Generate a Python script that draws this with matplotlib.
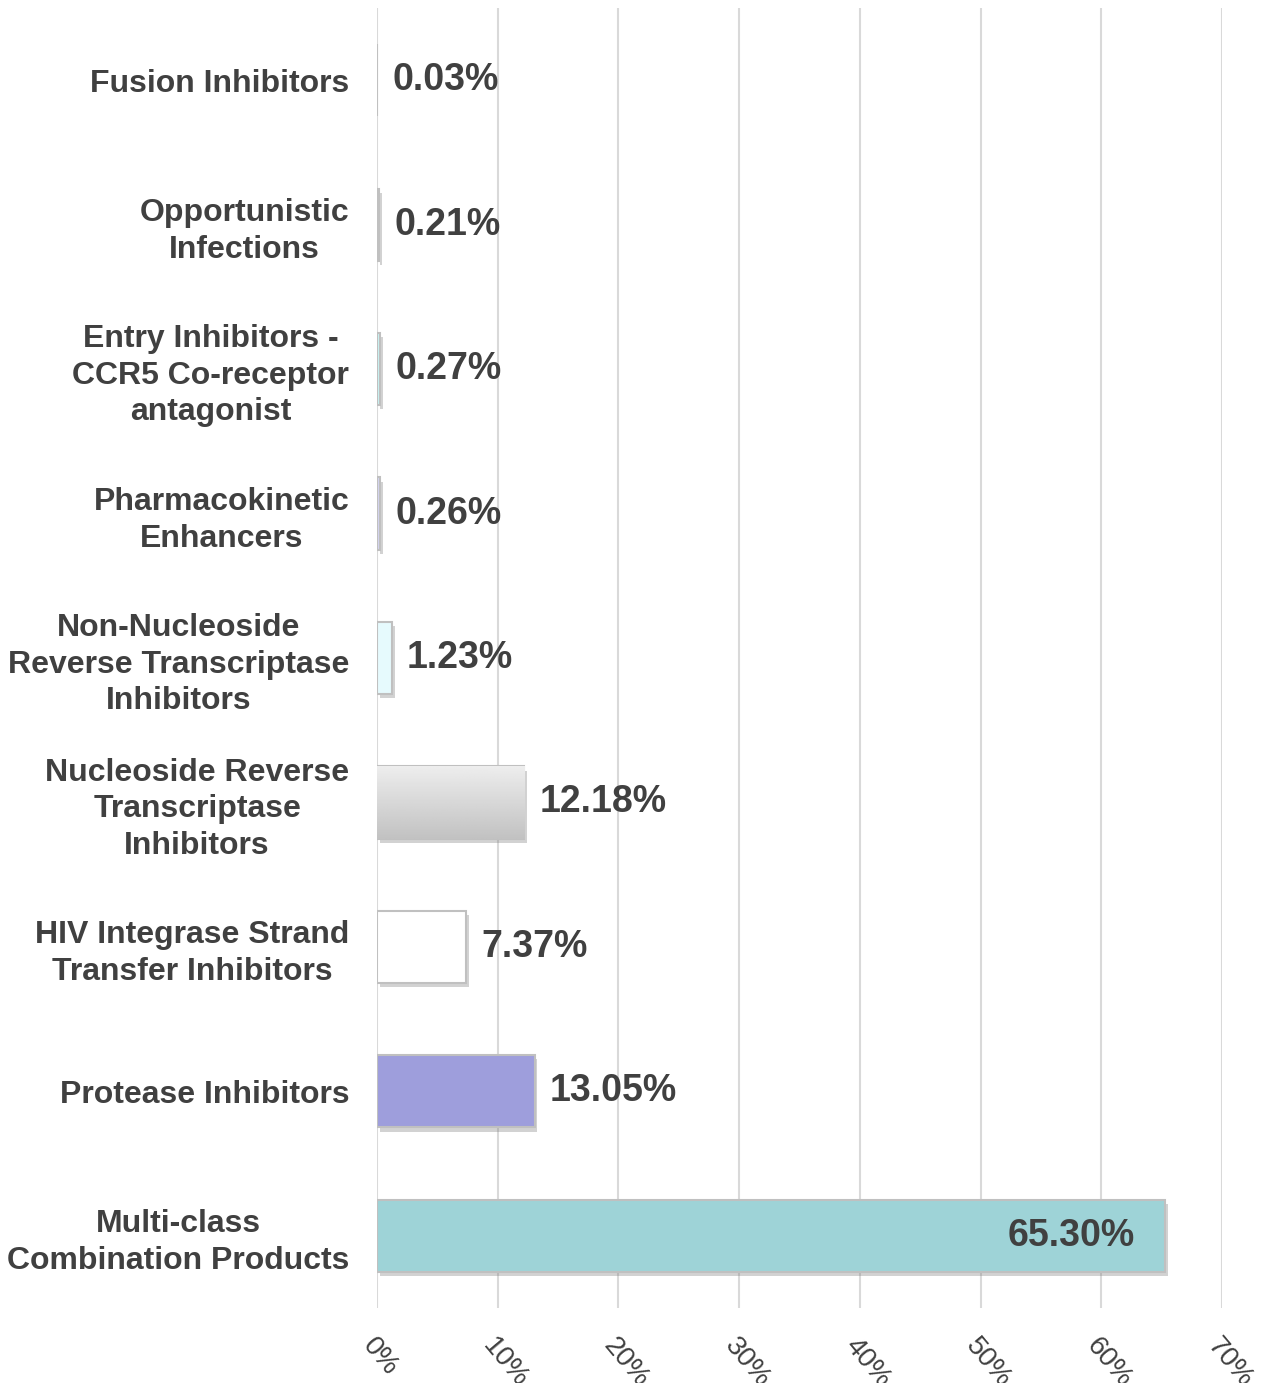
import numpy as np
import matplotlib.pyplot as plt
import matplotlib.patheffects as pe

plt.rcParams['font.family'] = ['Liberation Sans', 'DejaVu Sans']

# bottom to top
categories = ['Multi-class\nCombination Products',
              'Protease Inhibitors',
              'HIV Integrase Strand\nTransfer Inhibitors',
              'Nucleoside Reverse\nTranscriptase\nInhibitors',
              'Non-Nucleoside\nReverse Transcriptase\nInhibitors',
              'Pharmacokinetic\nEnhancers',
              'Entry Inhibitors -\nCCR5 Co-receptor\nantagonist',
              'Opportunistic\nInfections',
              'Fusion Inhibitors']
shares = [65.30, 13.05, 7.37, 12.18, 1.23, 0.26, 0.27, 0.21, 0.03]
share_labels = ['65.30%', '13.05%', '7.37%', '12.18%', '1.23%',
                '0.26%', '0.27%', '0.21%', '0.03%']
fill_colors = ['#9ed3d7', '#9e9edc', '#ffffff', '#d6d6d6', '#e6fafd',
               '#d4d4f2', '#c8f4f4', '#d9d9d9', '#f2f2f2']
xticks = [0, 10, 20, 30, 40, 50, 60, 70]

txt = '#404040'

fig = plt.figure(figsize=(12.8, 13.83), dpi=100)
ax = fig.add_axes([0.2945, 0.0542, 0.6602, 0.94])

y = np.arange(len(categories))
shadow = [pe.SimplePatchShadow(offset=(2, -3), shadow_rgbFace='#808080', alpha=0.35), pe.Normal()]
bars = ax.barh(y, shares, height=0.5, color=fill_colors, edgecolor='#c0c0c0',
               linewidth=1.5, zorder=3)
for b in bars:
    b.set_path_effects(shadow)

# gradient on the nucleoside bar
nb = bars[3]
grad = np.linspace(0.93, 0.76, 100).reshape(-1, 1)
im = ax.imshow(grad, cmap='gray', vmin=0, vmax=1, aspect='auto',
               extent=[nb.get_x(), nb.get_x() + nb.get_width(),
                       nb.get_y(), nb.get_y() + nb.get_height()],
               origin='upper', zorder=3.5)
im.set_clip_path(nb)

for i, (v, lab) in enumerate(zip(shares, share_labels)):
    if v > 50:
        ax.text(v - 2.5, i, lab, ha='right', va='center', fontsize=27,
                fontweight='bold', color=txt, zorder=5)
    else:
        ax.annotate(lab, (v, i), xytext=(11, 0), textcoords='offset points',
                    ha='left', va='center', fontsize=27, fontweight='bold',
                    color=txt, zorder=5)

ax.set_xlim(0, 70)
ax.set_ylim(-0.5, len(categories) - 0.5)
ax.set_xticks(xticks)
ax.set_xticklabels([f'{t}%' for t in xticks], rotation=-50, ha='left',
                   rotation_mode='anchor', fontsize=20, color=txt)
ax.set_yticks(y)
ax.set_yticklabels(categories, fontsize=23, fontweight='bold', color=txt,
                   linespacing=1.28)
for lbl in ax.get_yticklabels():
    lbl.set_multialignment('center')
ax.tick_params(axis='both', length=0)
ax.tick_params(axis='y', pad=20)
ax.tick_params(axis='x', pad=18)
ax.grid(axis='x', color='#d9d9d9', linewidth=1.5, zorder=0)
ax.set_axisbelow(True)
for s in ax.spines.values():
    s.set_visible(False)

fig.savefig('out.png', dpi=100)
